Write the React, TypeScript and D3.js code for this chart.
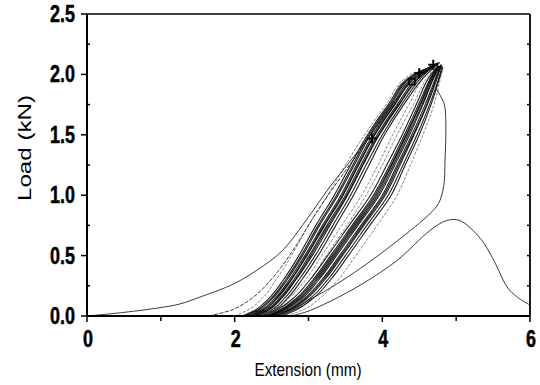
import React from "react";
import * as d3 from "d3";

// Load levels (kN) at which the cyclic loading curves are sampled
const LOADS = [0, 0.05, 0.15, 0.3, 0.5, 0.75, 1.0, 1.25, 1.5, 1.75, 2.0];

// Extension (mm) at each load level — left dark band of cycles
const LEFT_BAND = [
  [2.1, 2.28, 2.47, 2.66, 2.87, 3.1, 3.35, 3.57, 3.8, 4.08, 4.42],
  [2.13, 2.31, 2.5, 2.69, 2.9, 3.13, 3.38, 3.6, 3.82, 4.1, 4.44],
  [2.15, 2.33, 2.52, 2.71, 2.92, 3.15, 3.4, 3.62, 3.84, 4.12, 4.45],
  [2.18, 2.36, 2.55, 2.74, 2.95, 3.19, 3.44, 3.65, 3.87, 4.14, 4.47],
  [2.2, 2.38, 2.57, 2.76, 2.97, 3.21, 3.46, 3.67, 3.89, 4.16, 4.49],
  [2.22, 2.4, 2.58, 2.77, 2.98, 3.22, 3.47, 3.68, 3.9, 4.17, 4.5],
  [2.25, 2.43, 2.61, 2.8, 3.01, 3.25, 3.5, 3.71, 3.93, 4.2, 4.52],
  [2.27, 2.45, 2.63, 2.82, 3.03, 3.27, 3.52, 3.73, 3.95, 4.22, 4.54],
  [2.28, 2.46, 2.64, 2.83, 3.05, 3.29, 3.53, 3.74, 3.96, 4.23, 4.55],
  [2.32, 2.5, 2.68, 2.87, 3.09, 3.33, 3.57, 3.78, 4.0, 4.26, 4.57],
  [2.36, 2.54, 2.72, 2.91, 3.13, 3.37, 3.61, 3.82, 4.03, 4.29, 4.6],
];
const LEFT_PEAK_X = [4.65, 4.66, 4.68, 4.7, 4.71, 4.72, 4.73, 4.74, 4.75, 4.76, 4.78];
const LEFT_PEAK_Y = [2.06, 2.06, 2.07, 2.08, 2.08, 2.08, 2.09, 2.09, 2.09, 2.1, 2.1];

// Right dark band of cycles
const RIGHT_BAND = [
  [2.4, 2.57, 2.8, 3.02, 3.26, 3.55, 3.84, 4.06, 4.27, 4.46, 4.66],
  [2.43, 2.61, 2.84, 3.06, 3.3, 3.59, 3.88, 4.1, 4.3, 4.49, 4.68],
  [2.45, 2.63, 2.86, 3.08, 3.32, 3.61, 3.9, 4.12, 4.32, 4.51, 4.69],
  [2.46, 2.64, 2.88, 3.1, 3.34, 3.63, 3.92, 4.13, 4.33, 4.52, 4.7],
  [2.48, 2.66, 2.9, 3.12, 3.36, 3.65, 3.94, 4.15, 4.35, 4.54, 4.71],
  [2.5, 2.68, 2.92, 3.14, 3.38, 3.67, 3.96, 4.17, 4.37, 4.55, 4.72],
  [2.53, 2.71, 2.95, 3.18, 3.42, 3.71, 4.0, 4.2, 4.4, 4.58, 4.74],
  [2.55, 2.73, 2.97, 3.2, 3.44, 3.73, 4.02, 4.22, 4.42, 4.6, 4.75],
  [2.56, 2.75, 2.99, 3.22, 3.46, 3.75, 4.04, 4.24, 4.43, 4.61, 4.76],
  [2.6, 2.79, 3.03, 3.26, 3.5, 3.79, 4.08, 4.28, 4.47, 4.64, 4.78],
  [2.64, 2.83, 3.07, 3.3, 3.54, 3.83, 4.12, 4.31, 4.5, 4.66, 4.79],
];
const RIGHT_PEAK_X = [4.74, 4.75, 4.76, 4.77, 4.77, 4.78, 4.79, 4.8, 4.8, 4.81, 4.82];
const RIGHT_PEAK_Y = [2.06, 2.07, 2.07, 2.07, 2.07, 2.07, 2.08, 2.08, 2.08, 2.07, 2.06];

// Lighter single cycles (gap and edges of the bands)
const LIGHT_CYCLES = [
  [2.3, 2.52, 2.74, 2.96, 3.18, 3.45, 3.72, 3.94, 4.14, 4.36, 4.6],
  [2.35, 2.58, 2.8, 3.02, 3.24, 3.52, 3.78, 4.0, 4.2, 4.42, 4.64],
  [2.7, 2.92, 3.16, 3.4, 3.64, 3.93, 4.2, 4.38, 4.55, 4.7, 4.8],
  [2.0, 2.18, 2.38, 2.56, 2.77, 3.0, 3.26, 3.5, 3.76, 4.05, 4.38],
];
const LIGHT_PEAK_X = [4.74, 4.76, 4.82, 4.62];
const LIGHT_PEAK_Y = [2.08, 2.08, 2.05, 2.05];

// First loading curve
const FIRST_X = [0, 0.5, 1.0, 1.26, 1.5, 2.0, 2.4, 2.66, 3.0, 3.29, 3.55, 3.79, 4.1, 4.42, 4.66];
const FIRST_Y = [0, 0.03, 0.07, 0.1, 0.15, 0.27, 0.42, 0.55, 0.82, 1.07, 1.27, 1.46, 1.72, 1.96, 2.06];

// Second loading curve
const SECOND_X = [1.65, 2.0, 2.3, 2.6, 2.85, 3.1, 3.38, 3.65, 3.9, 4.2, 4.5, 4.68];
const SECOND_Y = [0, 0.06, 0.18, 0.38, 0.6, 0.85, 1.1, 1.33, 1.55, 1.8, 2.0, 2.07];

// Final cycle with the load drop
const DROP_X = [2.55, 2.8, 3.0, 3.29, 3.74, 4.2, 4.65, 4.76, 4.83, 4.85, 4.86, 4.84, 4.78, 4.73];
const DROP_Y = [0, 0.06, 0.13, 0.23, 0.41, 0.62, 0.85, 0.93, 1.07, 1.3, 1.6, 1.75, 1.83, 1.88];

// Post-failure curve
const FAIL_X = [2.75, 2.95, 3.29, 3.74, 4.2, 4.65, 4.87, 5.05, 5.33, 5.51, 5.69, 5.82, 6.0];
const FAIL_Y = [0, 0.03, 0.12, 0.27, 0.46, 0.71, 0.79, 0.79, 0.64, 0.46, 0.24, 0.16, 0.09];

// Instrument markers
const PLUS_X = [3.86, 4.5, 4.69];
const PLUS_Y = [1.47, 2.01, 2.08];
const SQUARE_X = [4.4];
const SQUARE_Y = [1.94];

// Axes
const X_TICKS = [0, 2, 4, 6];
const X_MINOR = [1, 3, 5];
const Y_TICKS = [0, 0.5, 1.0, 1.5, 2.0, 2.5];
const Y_MINOR = [0.25, 0.75, 1.25, 1.75, 2.25];
const Y_ALL = [0.25, 0.5, 0.75, 1.0, 1.25, 1.5, 1.75, 2.0, 2.25];

const W = 540;
const H = 385;
const x = d3.scaleLinear().domain([0, 6]).range([87, 530]);
const y = d3.scaleLinear().domain([0, 2.5]).range([316, 14]);

const bandLine = d3
  .line<[number, number]>()
  .x((d) => x(d[0]))
  .y((d) => y(d[1]))
  .curve(d3.curveMonotoneY);

const freeLine = d3
  .line<[number, number]>()
  .x((d) => x(d[0]))
  .y((d) => y(d[1]))
  .curve(d3.curveCatmullRom.alpha(0.5));

function cyclePoints(xs: number[], px: number, py: number): [number, number][] {
  const pts: [number, number][] = xs.map((v, i) => [v, LOADS[i]]);
  pts.push([px, py]);
  return pts;
}

function zip(xs: number[], ys: number[]): [number, number][] {
  return xs.map((v, i) => [v, ys[i]]);
}

const numFont = "'Liberation Sans Narrow', 'Liberation Sans', Arial, sans-serif";
const labelFont = "'Liberation Sans', Arial, sans-serif";

export default function App() {
  return (
    <svg
      width={W}
      height={H}
      viewBox={`0 0 ${W} ${H}`}
      style={{ position: "absolute", left: 0, top: 0, background: "#fff" }}
    >
      <rect x={0} y={0} width={W} height={H} fill="#fff" />

      {/* bands */}
      <g fill="none" stroke="#000" strokeWidth={1.1} strokeOpacity={0.88}>
        {LEFT_BAND.map((xs, i) => (
          <path key={`l${i}`} d={bandLine(cyclePoints(xs, LEFT_PEAK_X[i], LEFT_PEAK_Y[i])) || ""} />
        ))}
        {RIGHT_BAND.map((xs, i) => (
          <path key={`r${i}`} d={bandLine(cyclePoints(xs, RIGHT_PEAK_X[i], RIGHT_PEAK_Y[i])) || ""} />
        ))}
      </g>
      <g fill="none" stroke="#333" strokeWidth={0.6} strokeDasharray="3,1.5">
        {LIGHT_CYCLES.map((xs, i) => (
          <path key={`g${i}`} d={bandLine(cyclePoints(xs, LIGHT_PEAK_X[i], LIGHT_PEAK_Y[i])) || ""} />
        ))}
      </g>

      {/* individual curves */}
      <g fill="none" stroke="#222" strokeWidth={0.9}>
        <path d={freeLine(zip(FIRST_X, FIRST_Y)) || ""} />
        <path d={freeLine(zip(SECOND_X, SECOND_Y)) || ""} strokeDasharray="4,1.5" />
        <path d={freeLine(zip(DROP_X, DROP_Y)) || ""} />
        <path d={freeLine(zip(FAIL_X, FAIL_Y)) || ""} />
      </g>

      {/* markers */}
      <g stroke="#000" strokeWidth={2} fill="none">
        {PLUS_X.map((px, i) => (
          <g key={`p${i}`}>
            <line x1={x(px) - 5} x2={x(px) + 5} y1={y(PLUS_Y[i])} y2={y(PLUS_Y[i])} />
            <line x1={x(px)} x2={x(px)} y1={y(PLUS_Y[i]) - 5} y2={y(PLUS_Y[i]) + 5} />
          </g>
        ))}
        {SQUARE_X.map((px, i) => (
          <rect key={`s${i}`} x={x(px) - 3} y={y(SQUARE_Y[i]) - 3} width={6} height={6} strokeWidth={1.5} />
        ))}
      </g>

      {/* frame */}
      <g stroke="#000" fill="none">
        <line x1={x(0)} x2={x(6)} y1={y(2.5)} y2={y(2.5)} strokeWidth={1.5} />
        <line x1={x(6)} x2={x(6)} y1={y(2.5)} y2={y(0)} strokeWidth={1.8} />
        <line x1={x(0)} x2={x(6)} y1={y(0)} y2={y(0)} strokeWidth={2} />
        <line x1={x(0)} x2={x(0)} y1={y(2.5)} y2={y(0)} strokeWidth={2} />
      </g>

      {/* ticks */}
      <g stroke="#000" strokeWidth={1.5}>
        {Y_TICKS.map((t) => (
          <line key={`yt${t}`} x1={x(0) - 6} x2={x(0)} y1={y(t)} y2={y(t)} />
        ))}
        {Y_MINOR.map((t) => (
          <line key={`ym${t}`} x1={x(0)} x2={x(0) + 3} y1={y(t)} y2={y(t)} />
        ))}
        {Y_ALL.map((t) => (
          <line key={`yr${t}`} x1={x(6) - 3} x2={x(6)} y1={y(t)} y2={y(t)} />
        ))}
        {X_TICKS.map((t) => (
          <line key={`xt${t}`} x1={x(t)} x2={x(t)} y1={y(0)} y2={y(0) + 6} />
        ))}
        {X_MINOR.map((t) => (
          <line key={`xm${t}`} x1={x(t)} x2={x(t)} y1={y(0)} y2={y(0) + 5} />
        ))}
      </g>

      {/* tick labels */}
      <g fontFamily={numFont} fontWeight="bold" fontSize={23} fill="#000" stroke="#000" strokeWidth={0.5}>
        {Y_TICKS.map((t) => (
          <text
            key={`yl${t}`}
            transform={`translate(75,${y(t) + 8}) scale(0.78,1)`}
            textAnchor="end"
          >
            {d3.format(".1f")(t)}
          </text>
        ))}
        {X_TICKS.map((t) => (
          <text
            key={`xl${t}`}
            transform={`translate(${x(t) + 1},347) scale(0.78,1)`}
            textAnchor="middle"
          >
            {String(t)}
          </text>
        ))}
      </g>

      {/* axis titles */}
      <text
        x={308}
        y={376}
        textAnchor="middle"
        fontFamily={labelFont}
        fontSize={19}
        textLength={107}
        lengthAdjust="spacingAndGlyphs"
      >
        Extension (mm)
      </text>
      <text
        transform="translate(31,148) rotate(-90)"
        textAnchor="middle"
        fontFamily={labelFont}
        fontSize={18}
        textLength={106}
        lengthAdjust="spacingAndGlyphs"
      >
        Load (kN)
      </text>
    </svg>
  );
}
